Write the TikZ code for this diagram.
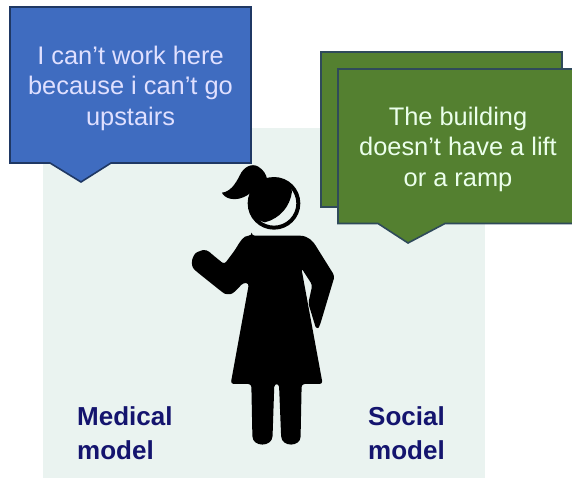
\documentclass[tikz,border=0pt]{standalone}
\usepackage{fontspec}
\setmainfont{Liberation Sans}
\definecolor{bgpale}{HTML}{EAF3F0}
\definecolor{blueb}{HTML}{3F6CC0}
\definecolor{blueline}{HTML}{1F3864}
\definecolor{greenb}{HTML}{548030}
\definecolor{greenline}{HTML}{2F4A5A}
\definecolor{navy}{HTML}{14146E}
\tikzset{
  calltext/.style={align=center,font=\fontsize{25.4}{30.5}\selectfont,inner sep=0pt},
  bluetext/.style={calltext,text=blue!12!white},
  greentext/.style={calltext,text=green!8!white},
  modellabel/.style={font=\bfseries\fontsize{26}{34}\selectfont,text=navy,inner sep=0pt},
  blueshape/.style={fill=blueb,draw=blueline,line width=1.6pt,line join=miter},
  greenshape/.style={fill=greenb,draw=greenline,line width=1.6pt,line join=miter},
}
\begin{document}
\begin{tikzpicture}[x=1pt,y=-1pt]
\useasboundingbox (0,0) rectangle (572,479);
\fill[white] (0,0) rectangle (572,479);
\fill[bgpale] (43,128) rectangle (485,478);
% blue callout
\draw[blueshape] (10,7) -- (251,7) -- (251,163) -- (111,163) -- (81,182) -- (50,163) -- (10,163) -- cycle;
\node[bluetext] (medq) at (130.5,88) {I can’t work here\\because i can’t go\\upstairs};
% green callouts
\draw[greenshape] (321,52) -- (562,52) -- (562,207) -- (321,207) -- cycle;
\draw[greenshape] (338,69) -- (573,69) -- (573,223.500) -- (445,223.500) -- (408,243) -- (378,223.500) -- (338,223.500) -- cycle;
\node[greentext] (socq) at (458,149) {The building\\doesn’t have a lift\\or a ramp};
% figure
\begin{scope}[shift={(180,150)},x=0.3333pt,y=-0.3333pt]
\fill[black,even odd rule] (282,160) circle[radius=79] (282,160) circle[radius=67];
% head
\fill[black] (205,160) .. controls (205,110) and (240,85) .. (285,83)
  .. controls (315,85) and (332,100) .. (336,125)
  .. controls (330,170) and (300,205) .. (255,217)
  .. controls (225,210) and (205,190) .. (205,160) -- cycle;
% ponytail
\fill[black] (235,100) .. controls (225,125) and (185,155) .. (150,146)
  .. controls (138,143) and (128,135) .. (126,128)
  .. controls (150,125) and (165,105) .. (180,75)
  .. controls (190,52) and (215,38) .. (235,50)
  .. controls (250,60) and (258,70) .. (262,90) -- cycle;
% body, raised arm and dress
\fill[black,rounded corners=3pt] (215,257) -- (350,257)
  .. controls (385,257) and (400,275) .. (412,295)
  -- (464,378) -- (420,525)
  .. controls (415,535) and (408,535) .. (404,522)
  -- (385,460) -- (397,405) -- (364,354) -- (428,702)
  -- (365,702) -- (362,850)
  .. controls (362,892) and (305,892) .. (303,850)
  -- (297,702) -- (283,702) -- (278,850)
  .. controls (276,892) and (218,892) .. (217,850)
  -- (214,702) -- (152,702) -- (207,400) -- (190,398)
  -- (165,425)
  .. controls (150,435) and (135,432) .. (125,425)
  -- (50,365)
  .. controls (28,345) and (38,312) .. (60,303)
  .. controls (75,298) and (85,303) .. (95,312)
  -- (133,343) -- (165,300)
  .. controls (180,275) and (190,257) .. (215,257) -- cycle;
\end{scope}
\node[modellabel,align=left,anchor=west] (medm) at (77,433) {Medical\\model};
\node[modellabel,align=right,anchor=east] (socm) at (445,433) {Social\\model};
\end{tikzpicture}
\end{document}
